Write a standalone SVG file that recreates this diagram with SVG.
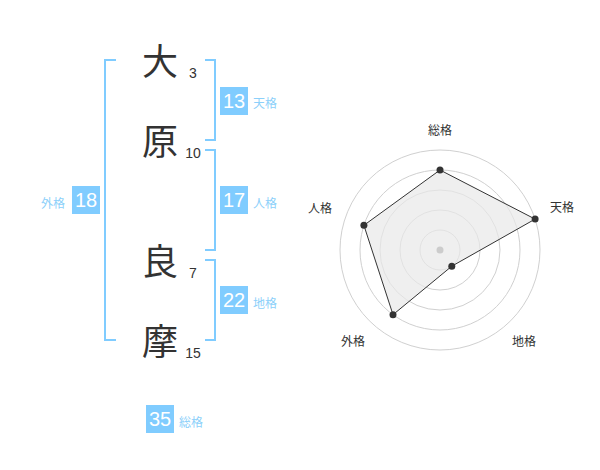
<svg xmlns="http://www.w3.org/2000/svg" width="600" height="470" viewBox="0 0 600 470">
<style>
.ch{font-family:"Noto Sans CJK JP","Noto Sans CJK SC",sans-serif;font-size:36px;fill:#333;text-anchor:middle}
.st{font-family:"Liberation Sans",Arial,sans-serif;font-size:14px;fill:#333;text-anchor:middle}
.br{fill:none;stroke:#80ccff;stroke-width:2}
.bx{fill:#80ccff}
.bn{font-family:"Liberation Sans",Arial,sans-serif;font-size:20px;fill:#fff;text-anchor:middle}
.lb{font-family:"Noto Sans CJK JP","Noto Sans CJK SC",sans-serif;font-size:12px;fill:#8cd0fa}
.rl{font-family:"Noto Sans CJK JP","Noto Sans CJK SC",sans-serif;font-size:12px;fill:#333;text-anchor:middle}
.ring{fill:none;stroke:#d0d0d0;stroke-width:1}
.dot{fill:#333}
</style>
<rect width="600" height="470" fill="#fff"/>
<g id="chars">
<text class="ch" x="160" y="75">大</text>
<text class="st" x="193" y="78">3</text>
<text class="ch" x="160" y="155">原</text>
<text class="st" x="193" y="158">10</text>
<text class="ch" x="160" y="275">良</text>
<text class="st" x="193" y="278">7</text>
<text class="ch" x="160" y="355">摩</text>
<text class="st" x="193" y="358">15</text>
</g>
<g id="connectors">
<path class="br" d="M116,60 H105 V340 H116"/>
<path class="br" d="M205,60 H215 V140 H205"/>
<path class="br" d="M205,150 H215 V250 H205"/>
<path class="br" d="M205,260 H215 V340 H205"/>
</g>
<g id="tenkaku">
<rect class="bx" x="220" y="87" width="28" height="28"/>
<text class="bn" x="234" y="108">13</text>
<text class="lb" x="253" y="108">天格</text>
</g>
<g id="jinkaku">
<rect class="bx" x="220" y="186" width="28" height="28"/>
<text class="bn" x="234" y="207">17</text>
<text class="lb" x="253" y="208">人格</text>
</g>
<g id="chikaku">
<rect class="bx" x="220" y="286" width="28" height="28"/>
<text class="bn" x="234" y="307">22</text>
<text class="lb" x="253" y="308">地格</text>
</g>
<g id="gaikaku">
<rect class="bx" x="72" y="186" width="28" height="28"/>
<text class="bn" x="86" y="207">18</text>
<text class="lb" x="65" y="208" text-anchor="end">外格</text>
</g>
<g id="soukaku">
<rect class="bx" x="146" y="405" width="28" height="28"/>
<text class="bn" x="160" y="426">35</text>
<text class="lb" x="179" y="427">総格</text>
</g>
<g id="radar">
<circle class="ring" cx="440" cy="250" r="20"/>
<circle class="ring" cx="440" cy="250" r="40"/>
<circle class="ring" cx="440" cy="250" r="60"/>
<circle class="ring" cx="440" cy="250" r="80"/>
<circle class="ring" cx="440" cy="250" r="100"/>
<polygon points="440,170 535.1,219.1 451.8,266.2 393,314.7 363.9,225.3" fill="#e8e8e8" fill-opacity="0.7" stroke="#333" stroke-width="1"/>
<circle cx="440" cy="250" r="3.5" fill="#ccc"/>
<circle class="dot" cx="440" cy="170" r="3.5"/>
<circle class="dot" cx="535.1" cy="219.1" r="3.5"/>
<circle class="dot" cx="451.8" cy="266.2" r="3.5"/>
<circle class="dot" cx="393" cy="314.7" r="3.5"/>
<circle class="dot" cx="363.9" cy="225.3" r="3.5"/>
<text class="rl" x="440" y="135">総格</text>
<text class="rl" x="562" y="212">天格</text>
<text class="rl" x="320" y="213">人格</text>
<text class="rl" x="353" y="346">外格</text>
<text class="rl" x="524" y="346">地格</text>
</g>
</svg>
